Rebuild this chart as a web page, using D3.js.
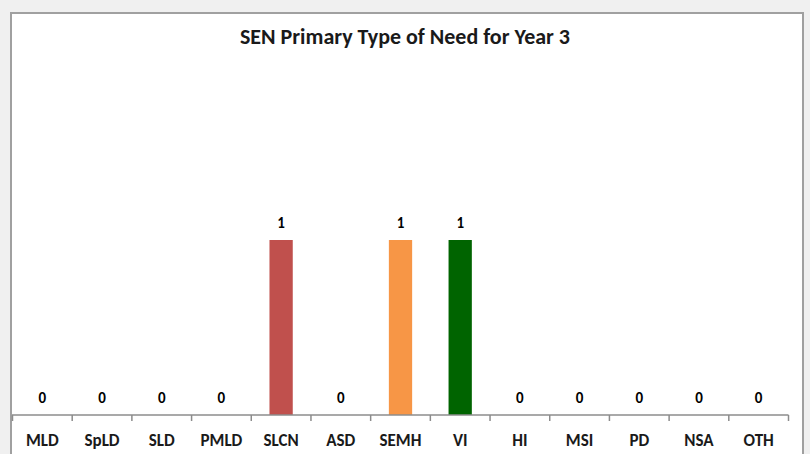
<!DOCTYPE html>
<html><head><meta charset="utf-8">
<script src="https://cdn.jsdelivr.net/npm/d3@7"></script>
<style>
html,body{margin:0;padding:0;background:#f0f0f0;}
svg{display:block;}
</style></head>
<body>
<svg id="c" width="810" height="454"></svg>
<script>
const categories = ["MLD","SpLD","SLD","PMLD","SLCN","ASD","SEMH","VI","HI","MSI","PD","NSA","OTH"];
const values = [0,0,0,0,1,0,1,1,0,0,0,0,0];
const barColors = {"SLCN":"#c0504d","SEMH":"#f79646","VI":"#006400"};
const title = "SEN Primary Type of Need for Year 3";
const yDomain = [0, 2];

const svg = d3.select("#c");
const font = "Calibri, Carlito, 'Liberation Sans Narrow', 'Open Sans', sans-serif";

svg.append("rect").attr("x",0).attr("y",0).attr("width",810).attr("height",454).attr("fill","#f0f0f0");
svg.append("rect").attr("x",11).attr("y",13).attr("width",792).attr("height",460)
  .attr("fill","#ffffff").attr("stroke","#a0a0a0").attr("stroke-width",2);

const x = d3.scaleBand().domain(categories).range([12.5, 788.5]).paddingInner(0.61).paddingOuter(0.305);
const y = d3.scaleLinear().domain(yDomain).range([415, 65]);

svg.append("text").attr("x",405).attr("y",43.5).attr("text-anchor","middle")
  .attr("font-family",font).attr("font-weight","bold").attr("font-size",22).attr("fill","#1a1a1a")
  .text(title);

const data = categories.map((c,i)=>({c, v: values[i]}));

svg.selectAll("rect.bar").data(data.filter(d=>d.v>0)).enter().append("rect")
  .attr("class","bar")
  .attr("x",d=>x(d.c)).attr("width",x.bandwidth())
  .attr("y",d=>y(d.v)).attr("height",d=>y(0)-y(d.v))
  .attr("fill",d=>barColors[d.c] || "#4f81bd");

svg.selectAll("text.val").data(data).enter().append("text")
  .attr("class","val")
  .attr("x",d=>x(d.c)+x.bandwidth()/2).attr("y",d=>y(d.v)-12)
  .attr("text-anchor","middle").attr("font-family",font).attr("font-weight","bold")
  .attr("font-size",15).attr("fill","#000")
  .text(d=>d.v);

const axis = d3.axisBottom(x).tickSize(0).tickPadding(0);
const g = svg.append("g").attr("transform",`translate(0,${y(0)})`);
g.call(axis);
g.select(".domain").remove();
g.selectAll(".tick text").remove();
g.append("line").attr("x1",12).attr("x2",788.5).attr("y1",0).attr("y2",0).attr("stroke","#8c8c8c").attr("stroke-width",1.5);
const step = x.step();
const edges = categories.map(c=>x(c) - step*x.paddingInner()/2).concat([788.5]);
g.selectAll("line.tk").data(edges).enter().append("line").attr("class","tk")
  .attr("x1",d=>d).attr("x2",d=>d).attr("y1",0).attr("y2",6).attr("stroke","#8c8c8c").attr("stroke-width",1.5);

svg.selectAll("text.cat").data(categories).enter().append("text").attr("class","cat")
  .attr("x",d=>x(d)+x.bandwidth()/2).attr("y",446)
  .attr("text-anchor","middle").attr("font-family",font).attr("font-weight","bold")
  .attr("font-size",17).attr("fill","#1a1a1a").text(d=>d);
</script>
</body></html>
